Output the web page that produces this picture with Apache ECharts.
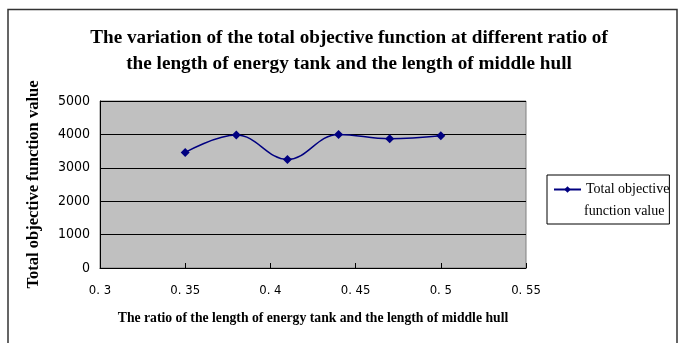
<!DOCTYPE html>
<html>
<head>
<meta charset="utf-8">
<script src="https://cdn.jsdelivr.net/npm/echarts@6/dist/echarts.min.js"></script>
<style>
  html, body { margin: 0; padding: 0; background: #fff; }
  #chart { width: 680px; height: 343px; }
</style>
</head>
<body>
<div id="chart"></div>
<script>
// Ratio of energy tank length to middle hull length
var ratios = [0.35, 0.38, 0.41, 0.44, 0.47, 0.50];
// Total objective function value at each ratio
var objectiveValues = [3460, 3980, 3250, 4000, 3870, 3960];
var seriesName = 'Total objective function value';

var serif = '"Liberation Serif", "Times New Roman", serif';
var narrow = '"Liberation Sans Narrow", "DejaVu Sans Condensed", "Liberation Sans", sans-serif';

var chart = echarts.init(document.getElementById('chart'), null, { renderer: 'canvas' });

chart.setOption({
  backgroundColor: '#ffffff',
  animation: false,
  graphic: [{
    // outer frame of the chart area
    type: 'rect',
    shape: { x: 8, y: 9.5, width: 669, height: 400 },
    style: { fill: 'none', stroke: '#333333', lineWidth: 1.5 },
    silent: true,
    z: -1
  }, {
    // second line of the legend entry
    type: 'text',
    left: 584,
    top: 204,
    style: {
      text: 'function value',
      font: '14px ' + serif,
      fill: '#000'
    },
    z: 10
  }],
  title: {
    text: 'The variation of the total objective function at different ratio of\nthe length of energy tank and the length of middle hull',
    left: 344,
    top: 20,
    textAlign: 'center',
    textStyle: {
      fontFamily: serif,
      fontWeight: 'bold',
      fontSize: 19.2,
      lineHeight: 26,
      color: '#000'
    }
  },
  legend: {
    orient: 'vertical',
    left: 547,
    top: 175,
    padding: [6, 0, 26, 6],
    borderColor: '#000',
    borderWidth: 1,
    backgroundColor: '#fff',
    itemWidth: 27,
    itemHeight: 8,
    formatter: function () { return 'Total objective'; },
    textStyle: {
      fontFamily: serif,
      fontSize: 14,
      lineHeight: 17,
      color: '#000'
    },
    data: [seriesName]
  },
  grid: {
    left: 100,
    right: 154,
    top: 101,
    bottom: 75,
    show: true,
    backgroundColor: '#c0c0c0',
    borderColor: '#808080',
    borderWidth: 1
  },
  xAxis: {
    type: 'value',
    min: 0.3,
    max: 0.55,
    interval: 0.05,
    name: 'The ratio of the length of energy tank and the length of middle hull',
    nameLocation: 'middle',
    nameGap: 43,
    nameTextStyle: {
      fontFamily: serif,
      fontWeight: 'bold',
      fontSize: 13.7,
      color: '#000'
    },
    axisLine: { onZero: false, lineStyle: { color: '#000', width: 1 } },
    axisTick: { inside: true, length: 5, lineStyle: { color: '#000' } },
    splitLine: { show: false },
    axisLabel: {
      margin: 16,
      fontFamily: narrow,
      fontSize: 13,
      color: '#000',
      formatter: function (v) {
        var s = String(Math.round(v * 100) / 100);
        return s.replace('.', '. ');
      }
    }
  },
  yAxis: {
    type: 'value',
    min: 0,
    max: 5000,
    interval: 1000,
    name: 'Total objective function value',
    nameLocation: 'middle',
    nameGap: 58,
    nameTextStyle: {
      fontFamily: serif,
      fontWeight: 'bold',
      fontSize: 16.5,
      color: '#000'
    },
    axisLine: { show: true, lineStyle: { color: '#000', width: 1 } },
    axisTick: { show: false },
    splitLine: { show: true, lineStyle: { color: '#000', width: 1 } },
    axisLabel: {
      margin: 10,
      fontFamily: narrow,
      fontSize: 14,
      color: '#000',
      formatter: function (v) { return String(v); }
    }
  },
  series: [{
    name: seriesName,
    type: 'line',
    smooth: 0.4,
    data: ratios.map(function (r, i) { return [r, objectiveValues[i]]; }),
    symbol: 'diamond',
    symbolSize: 9,
    lineStyle: { color: '#000080', width: 1.5 },
    itemStyle: { color: '#000080' }
  }]
});
</script>
</body>
</html>
